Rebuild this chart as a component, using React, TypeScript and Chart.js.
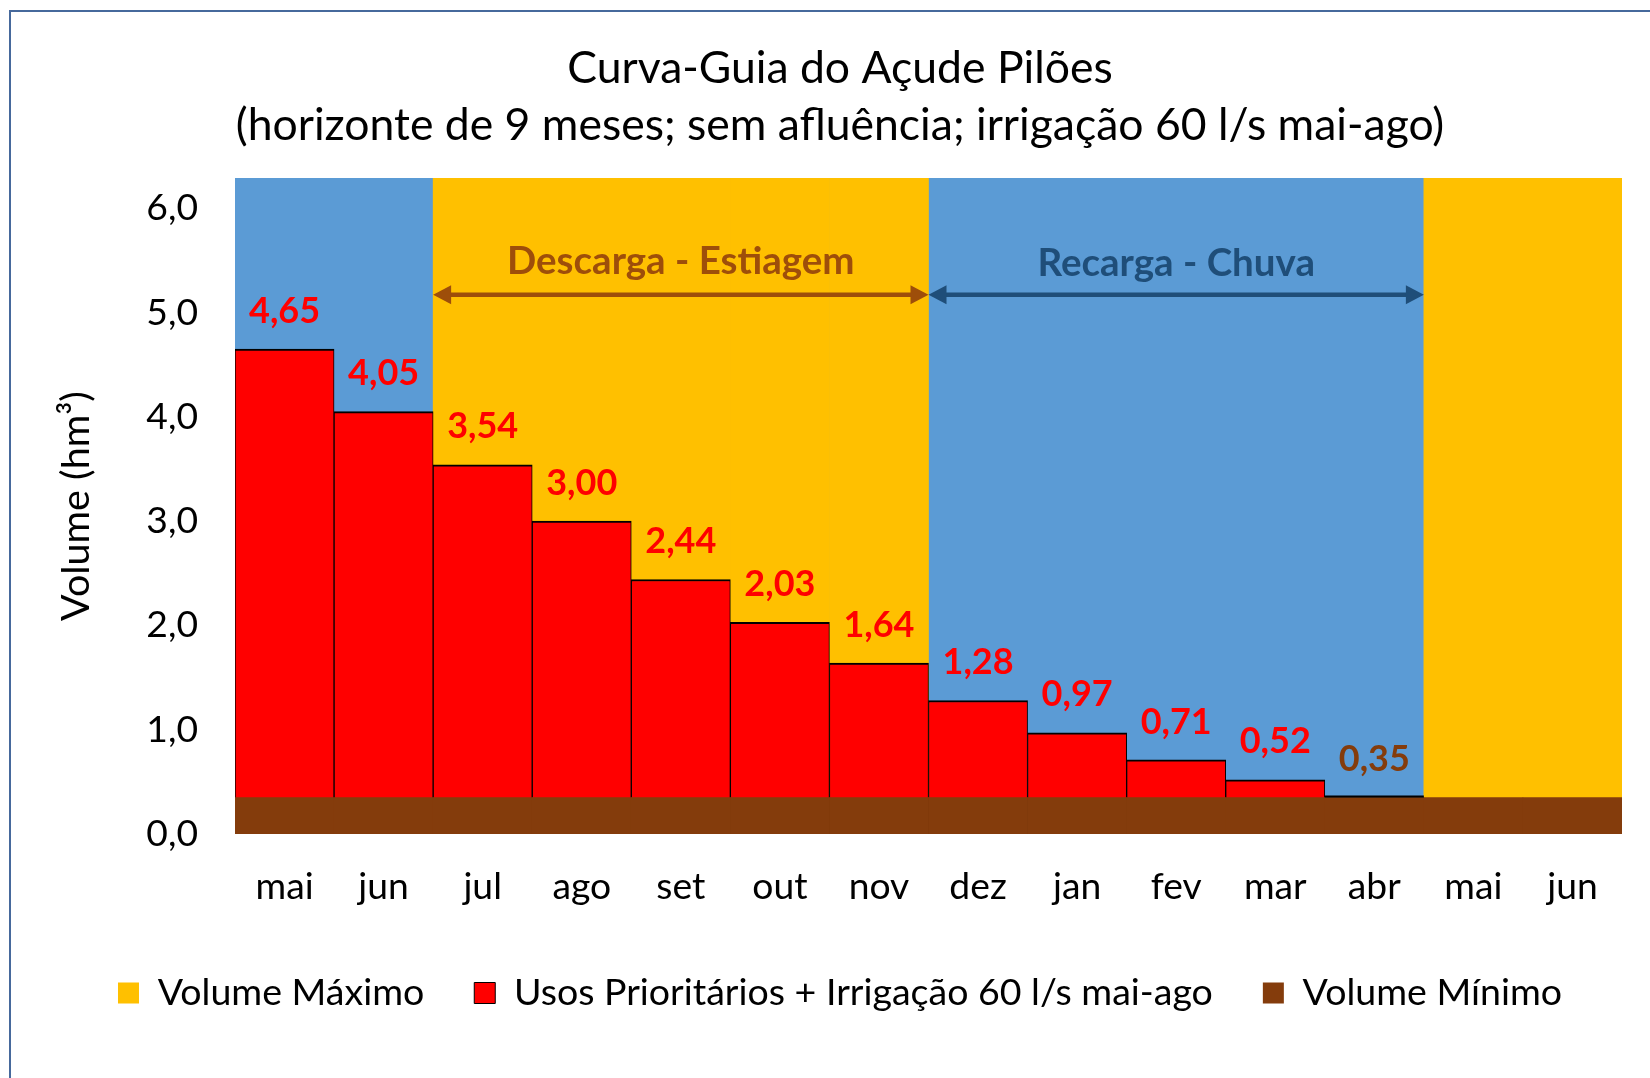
import React, { useEffect, useRef } from "react";
import { Chart, registerables } from "chart.js";

Chart.register(...registerables);

const FONT = "Lato, 'Open Sans', sans-serif";

const titleLines = [
  "Curva-Guia do Açude Pilões",
  "(horizonte de 9 meses; sem afluência; irrigação 60 l/s mai-ago)",
];
const months = ["mai", "jun", "jul", "ago", "set", "out", "nov", "dez", "jan", "fev", "mar", "abr", "mai", "jun"];
const usosPrioritarios = [4.65, 4.05, 3.54, 3.0, 2.44, 2.03, 1.64, 1.28, 0.97, 0.71, 0.52, 0.35, null, null];
const volumeMinimo = [0.35, 0.35, 0.35, 0.35, 0.35, 0.35, 0.35, 0.35, 0.35, 0.35, 0.35, 0.35, 0.35, 0.35];
const volumeMaximo = [null, null, 6.29, 6.29, 6.29, 6.29, 6.29, null, null, null, null, null, 6.29, 6.29];
const yTickValues = [0, 1, 2, 3, 4, 5, 6];
const yAxisMax = 6.29;
const yAxisTitle = "Volume (hm³)";
const seriesNames = ["Volume Mínimo", "Usos Prioritários + Irrigação 60 l/s mai-ago", "Volume Máximo"];
const phaseLabels = ["Descarga - Estiagem", "Recarga - Chuva"];
const phaseFirstMonth = [2, 7];
const phaseLastMonth = [6, 11];
const phaseTextLevel = [5.49, 5.47];
const phaseArrowLevel = [5.17, 5.17];

const COLORS = {
  plot: "#5B9BD5",
  max: "#FFC000",
  usos: "#FF0000",
  min: "#843C0C",
  descarga: "#9E4E0A",
  recarga: "#1F4E79",
  text: "#000000",
};

export default function App() {
  const canvasRef = useRef<HTMLCanvasElement | null>(null);

  useEffect(() => {
    document.body.style.margin = "0";
    const canvas = canvasRef.current;
    if (!canvas) return;

    const mctx = document.createElement("canvas").getContext("2d")!;
    const fit = (text: string, weight: string, target: number) => {
      mctx.font = `${weight} 100px ${FONT}`;
      return Math.round((200 * target) / mctx.measureText(text).width) / 2;
    };
    const sizes = {
      title: fit(titleLines[1], "normal", 1204),
      tick: (fit("6,0", "normal", 50.5) + fit("mar", "normal", 64)) / 2,
      yTitle: fit(yAxisTitle, "normal", 229),
      legend: fit(seriesNames[1], "normal", 700),
      label: fit("4,65", "bold", 70.7),
      phase: (fit(phaseLabels[0], "bold", 349) + fit(phaseLabels[1], "bold", 276)) / 2,
    };

    const LEFT_PAD = 58;
    const RIGHT_PAD = 28;
    const TOP_PAD = 10;
    const PLOT_LEFT = 235;
    const PLOT_BOTTOM = 834;
    const LEGEND_PADDING = 50;
    const legendBottomPad = 75 - sizes.legend / 2;
    const legendTop = 1078 - legendBottomPad - (sizes.legend + LEGEND_PADDING + 10);
    const xHeight = legendTop - PLOT_BOTTOM;
    const LABEL_OFFSET = 38;

    const overlay = {
      id: "overlay",
      beforeDatasetsDraw(chart: any) {
        const { ctx, chartArea: a } = chart;
        ctx.save();
        ctx.fillStyle = COLORS.plot;
        ctx.fillRect(a.left, a.top, a.right - a.left, a.bottom - a.top);
        ctx.restore();
      },
      afterDatasetsDraw(chart: any) {
        const ctx = chart.ctx;
        const xs = chart.scales.x;
        const ys = chart.scales.y;
        const meta = chart.getDatasetMeta(1);
        ctx.save();
        ctx.textAlign = "center";
        ctx.textBaseline = "middle";
        meta.data.forEach((el: any, i: number) => {
          const v = usosPrioritarios[i];
          if (v == null) return;
          const { x, y, width } = el.getProps(["x", "y", "width"], true);
          const atMin = v <= volumeMinimo[i];
          if (atMin) {
            ctx.fillStyle = "#000";
            ctx.fillRect(x - width / 2, y - 2, width, 2);
          }
          ctx.font = `bold ${sizes.label}px ${FONT}`;
          ctx.fillStyle = atMin ? COLORS.min : COLORS.usos;
          ctx.fillText(v.toFixed(2).replace(".", ","), x, y - LABEL_OFFSET);
        });
        phaseLabels.forEach((label, k) => {
          const x0 = xs.getPixelForValue(phaseFirstMonth[k] - 0.5);
          const x1 = xs.getPixelForValue(phaseLastMonth[k] + 0.5);
          const ay = ys.getPixelForValue(phaseArrowLevel[k]);
          const ty = ys.getPixelForValue(phaseTextLevel[k]);
          const color = k === 0 ? COLORS.descarga : COLORS.recarga;
          const head = 18;
          const half = 9.5;
          ctx.strokeStyle = color;
          ctx.fillStyle = color;
          ctx.lineWidth = 4.5;
          ctx.beginPath();
          ctx.moveTo(x0 + head - 2, ay);
          ctx.lineTo(x1 - head + 2, ay);
          ctx.stroke();
          ctx.beginPath();
          ctx.moveTo(x0, ay);
          ctx.lineTo(x0 + head, ay - half);
          ctx.lineTo(x0 + head, ay + half);
          ctx.closePath();
          ctx.fill();
          ctx.beginPath();
          ctx.moveTo(x1, ay);
          ctx.lineTo(x1 - head, ay - half);
          ctx.lineTo(x1 - head, ay + half);
          ctx.closePath();
          ctx.fill();
          ctx.font = `bold ${sizes.phase}px ${FONT}`;
          ctx.fillText(label, (x0 + x1) / 2, ty);
        });
        ctx.restore();
      },
    };

    const chart = new Chart(canvas, {
      type: "bar",
      data: {
        labels: months,
        datasets: [
          {
            label: seriesNames[0],
            data: volumeMinimo,
            backgroundColor: COLORS.min,
            borderWidth: 0,
            barPercentage: 1,
            categoryPercentage: 1,
          },
          {
            label: seriesNames[1],
            data: usosPrioritarios,
            backgroundColor: COLORS.usos,
            borderColor: "#000000",
            borderWidth: { top: 2, left: 1, right: 1, bottom: 0 },
            borderSkipped: false,
            barPercentage: 1,
            categoryPercentage: 1,
          },
          {
            label: seriesNames[2],
            data: volumeMaximo,
            backgroundColor: COLORS.max,
            borderWidth: 0,
            barPercentage: 1,
            categoryPercentage: 1,
          },
        ],
      },
      options: {
        responsive: false,
        animation: false,
        devicePixelRatio: 1,
        layout: { padding: { left: LEFT_PAD, right: RIGHT_PAD, top: TOP_PAD, bottom: legendBottomPad } },
        plugins: {
          tooltip: { enabled: false },
          title: {
            display: true,
            text: titleLines,
            color: COLORS.text,
            font: { family: FONT, size: sizes.title, weight: "normal", lineHeight: "57px" },
            padding: { top: 30, bottom: 24 },
          },
          legend: {
            position: "bottom",
            labels: {
              boxWidth: 21,
              boxHeight: 21,
              padding: LEGEND_PADDING,
              color: COLORS.text,
              font: { family: FONT, size: sizes.legend },
              sort: (a: any, b: any) => b.datasetIndex - a.datasetIndex,
            },
          },
        },
        scales: {
          x: {
            stacked: true,
            grid: { display: false, drawTicks: false },
            border: { display: false },
            ticks: {
              color: COLORS.text,
              font: { family: FONT, size: sizes.tick },
              padding: 53 - sizes.tick * 0.6,
              autoSkip: false,
              maxRotation: 0,
            },
            afterFit: (s: any) => {
              s.height = xHeight;
            },
          },
          y: {
            stacked: false,
            min: 0,
            max: yAxisMax,
            grid: { display: false, drawTicks: false },
            border: { display: false },
            afterBuildTicks: (s: any) => {
              s.ticks = yTickValues.map((v) => ({ value: v }));
            },
            ticks: {
              color: COLORS.text,
              font: { family: FONT, size: sizes.tick },
              padding: 37,
              callback: (v: any) => Number(v).toFixed(1).replace(".", ","),
            },
            title: {
              display: true,
              text: yAxisTitle,
              color: COLORS.text,
              font: { family: FONT, size: sizes.yTitle, weight: "normal" },
              padding: { top: 76 - LEFT_PAD - (sizes.yTitle * 1.2) / 2, bottom: 0 },
            },
            afterFit: (s: any) => {
              s.width = PLOT_LEFT - LEFT_PAD;
            },
          },
        },
      },
      plugins: [overlay],
    } as any);

    return () => chart.destroy();
  }, []);

  return (
    <div style={{ position: "relative", width: 1650, height: 1078, overflow: "hidden", background: "#fff" }}>
      <div
        style={{
          position: "absolute",
          left: 9,
          top: 10,
          width: 1700,
          height: 1100,
          border: "2px solid #46699C",
          boxSizing: "border-box",
        }}
      />
      <canvas ref={canvasRef} width={1650} height={1078} style={{ position: "absolute", left: 0, top: 0 }} />
    </div>
  );
}
